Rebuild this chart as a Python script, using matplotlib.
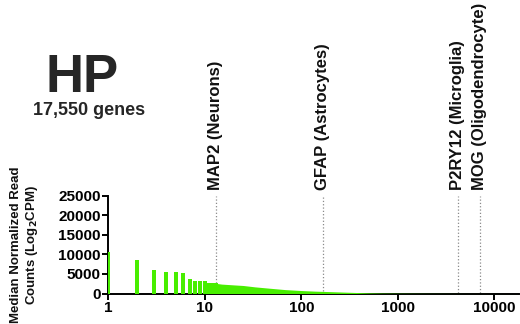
import numpy as np
import matplotlib
matplotlib.use("Agg")
from matplotlib import pyplot as plt

plt.rcParams['font.family'] = ['Liberation Sans', 'DejaVu Sans']
plt.rcParams['font.weight'] = 'bold'

# top ranked genes, drawn as single bars
top_ranks = [1, 2, 3, 4, 5, 6, 7, 8, 9, 10, 11, 12, 13]
top_values = [10600, 8500, 6100, 5500, 5500, 5200, 3650, 3200, 3200, 3200, 2800, 2650, 2600]

# long tail at a few ranks
tail_ranks = [13, 15, 20, 25, 33, 47, 68, 100, 140, 200, 300, 500, 700, 1000, 2000, 5000, 17550]
tail_values = [2600, 2400, 2200, 2050, 1700, 1350, 1000, 760, 600, 480, 330, 160, 90, 60, 30, 10, 2]

marker_names = ['MAP2 (Neurons)', 'GFAP (Astrocytes)', 'P2RY12 (Microglia)', 'MOG (Oligodendrocyte)']
marker_ranks = [13, 166, 4200, 7080]
marker_values = [2600, 560, 10, 5]

yticks = [0, 5000, 10000, 15000, 20000, 25000]
xticks = [1, 10, 100, 1000, 10000]
xtick_labels = ['1', '10', '100', '1000', '10000']

green = '#48ee00'

fig = plt.figure(figsize=(5.2, 3.24), dpi=100)
ax = fig.add_axes([0.2083, 0.0941, 0.7896, 0.3019])

r = np.array(top_ranks, dtype=float)
f = 10 ** 0.021
ax.bar(r / f, top_values, width=r * f - r / f, align='edge', color=green, linewidth=0, zorder=3)
ax.fill_between(tail_ranks, 0, tail_values, color=green, linewidth=0, zorder=3)

ax.vlines(marker_ranks, marker_values, 25000, colors='#8a8a8a', linestyles=':', linewidth=0.9)
for name, x in zip(marker_names, marker_ranks):
    ax.annotate(name, (x, 25000), xytext=(0, 4), textcoords='offset points',
                rotation=90, ha='center', va='bottom', fontsize=12, fontweight='bold',
                color='#111111', annotation_clip=False)

ax.set_xscale('log')
ax.set_xlim(1, 18000)
ax.set_ylim(0, 25000)
ax.set_xticks(xticks)
ax.set_xticklabels(xtick_labels)
ax.xaxis.set_minor_locator(matplotlib.ticker.NullLocator())
ax.set_yticks(yticks)
for s in ['top', 'right']:
    ax.spines[s].set_visible(False)
for s in ['left', 'bottom']:
    ax.spines[s].set_linewidth(1.4)
ax.tick_params(length=4, width=1.4, labelsize=11, pad=1.5)
for lab in ax.get_xticklabels() + ax.get_yticklabels():
    lab.set_fontweight('bold')

fig.text(25 / 520, 1 - 245 / 324, 'Median Normalized Read\nCounts (Log$_\\mathbf{2}$CPM)',
         rotation=90, ha='center', va='center', fontsize=9.5, fontweight='bold',
         multialignment='center', color='#111111')

fig.text(82.5 / 520, 1 - 92 / 324, 'HP', ha='center', va='baseline',
         fontsize=38, fontweight='bold', color='#262626')
fig.text(89.5 / 520, 1 - 115 / 324, '17,550 genes', ha='center', va='baseline',
         fontsize=13, fontweight='bold', color='#262626')

fig.savefig('out.png', dpi=100)
